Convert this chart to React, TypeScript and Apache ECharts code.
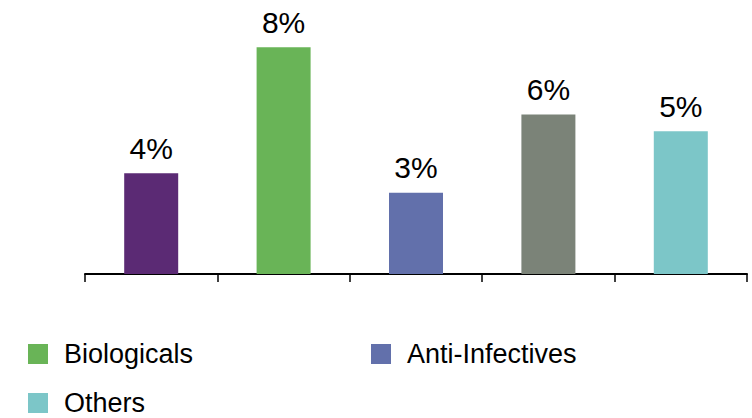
import React, { useEffect, useRef } from "react";
import * as echarts from "echarts";

const categories = ["Segment 1", "Biologicals", "Anti-Infectives", "Segment 4", "Others"];
const values = [3.6, 8.1, 2.9, 5.7, 5.1];
const colors = ["#5B2A74", "#69B457", "#6270AB", "#7B8378", "#7CC6C8"];
const legendRows = [
  { name: "Biologicals", left: 23, top: 334 },
  { name: "Anti-Infectives", left: 366, top: 334 },
  { name: "Others", left: 23, top: 383 },
];

const FONT = "'Liberation Sans', Arial, Helvetica, sans-serif";

export default function App() {
  const ref = useRef<HTMLDivElement>(null);
  useEffect(() => {
    if (!ref.current) return;
    const chart = echarts.init(ref.current, undefined, { renderer: "svg" });
    const series = categories.map((name, i) => ({
      name,
      type: "bar",
      stack: "all",
      barWidth: 54,
      itemStyle: { color: colors[i] },
      label: {
        show: true,
        position: "top",
        distance: 10,
        fontSize: 30,
        fontFamily: FONT,
        color: "#000",
        formatter: (p: any) => Math.round(p.value) + "%",
      },
      data: categories.map((_, j) => (j === i ? values[i] : "-")),
    }));
    chart.setOption({
      animation: false,
      backgroundColor: "#fff",
      grid: { left: 85, right: 5, top: 22, bottom: 144, containLabel: false },
      xAxis: {
        type: "category",
        data: categories,
        axisLine: { show: true, lineStyle: { color: "#000", width: 2 } },
        axisTick: { show: true, inside: false, length: 8, lineStyle: { color: "#000", width: 1.5 } },
        axisLabel: { show: false },
        splitLine: { show: false },
      },
      yAxis: {
        type: "value",
        min: 0,
        max: 9,
        show: false,
        splitLine: { show: false },
      },
      legend: legendRows.map((r) => ({
        data: [r.name],
        left: r.left,
        top: r.top,
        icon: "rect",
        itemWidth: 20,
        itemHeight: 20,
        selectedMode: false,
        textStyle: {
          fontSize: 27,
          fontFamily: FONT,
          color: "#000",
          lineHeight: 30,
          padding: [0, 0, 0, 11],
        },
      })),
      series,
    });
    return () => chart.dispose();
  }, []);
  return (
    <div
      ref={ref}
      style={{ position: "absolute", left: 0, top: 0, width: 752, height: 418 }}
    />
  );
}
